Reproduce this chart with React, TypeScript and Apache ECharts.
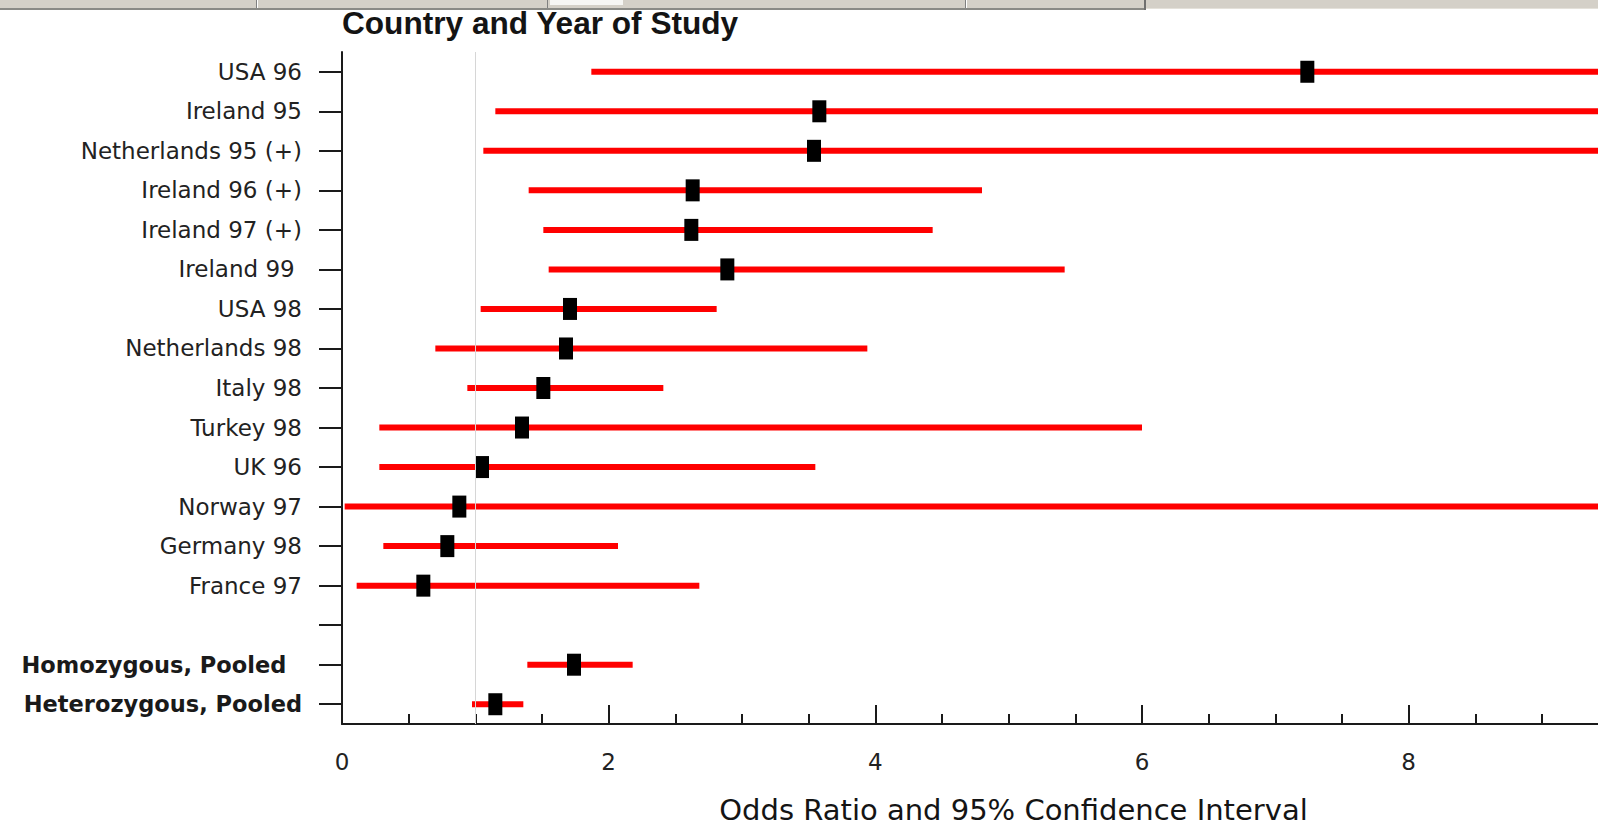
import React, { useEffect, useRef } from "react";
import * as echarts from "echarts";

// ---- data ----
const studies = [
  "USA 96",
  "Ireland 95",
  "Netherlands 95 (+)",
  "Ireland 96 (+)",
  "Ireland 97 (+)",
  "Ireland 99 ",
  "USA 98",
  "Netherlands 98",
  "Italy 98",
  "Turkey 98",
  "UK 96",
  "Norway 97",
  "Germany 98",
  "France 97",
  "",
  "Homozygous, Pooled  ",
  "Heterozygous, Pooled",
];
const oddsRatio = [7.24, 3.58, 3.54, 2.63, 2.62, 2.89, 1.71, 1.68, 1.51, 1.35, 1.05, 0.88, 0.79, 0.61, null, 1.74, 1.15];
const ciLower = [1.87, 1.15, 1.06, 1.40, 1.51, 1.55, 1.04, 0.70, 0.94, 0.28, 0.28, 0.02, 0.31, 0.11, null, 1.39, 0.975];
// upper limits beyond the visible axis (cut at the right edge) are estimates
const ciUpper = [11, 11, 11, 4.80, 4.43, 5.42, 2.81, 3.94, 2.41, 6.00, 3.55, 11, 2.07, 2.68, null, 2.18, 1.36];
const pooledRows = ["Homozygous, Pooled  ", "Heterozygous, Pooled"];
const xTickLabels = [0, 2, 4, 6, 8];
const majorStep = 2;
const minorStep = 0.5;
const referenceValue = 1;
const xMax = 9.435;

const titleText = "Country and Year of Study";
const xAxisTitle = "Odds Ratio and 95% Confidence Interval";

const LABEL_FONT = "DejaVu Sans";

export default function App() {
  const ref = useRef<HTMLDivElement>(null);

  useEffect(() => {
    if (!ref.current) return;
    const chart = echarts.init(ref.current, undefined, { renderer: "svg" });

    const ciData: any[] = [];
    const orData: any[] = [];
    studies.forEach((s, i) => {
      if (oddsRatio[i] == null) return;
      ciData.push([ciLower[i], ciUpper[i], i]);
      orData.push([oddsRatio[i], i]);
    });

    const axisColor = "#1a1a1a";

    const option: any = {
      animation: false,
      backgroundColor: "#ffffff",
      title: {
        text: titleText,
        left: 342,
        top: 7,
        padding: 0,
        textStyle: {
          fontFamily: "Liberation Sans",
          fontWeight: "bold",
          fontSize: 31.6,
          color: "#141414",
        },
      },
      graphic: [
        { type: "rect", shape: { x: 0, y: 0, width: 1598, height: 8 }, style: { fill: "#d4d0c8" }, z: 10 },
        { type: "rect", shape: { x: 0, y: 8, width: 1146, height: 2 }, style: { fill: "#8a8a86" }, z: 10 },
        { type: "rect", shape: { x: 1146, y: 8, width: 452, height: 1 }, style: { fill: "#e4e1da" }, z: 10 },
        { type: "rect", shape: { x: 256, y: 0, width: 1, height: 8 }, style: { fill: "#808080" }, z: 11 },
        { type: "rect", shape: { x: 257, y: 0, width: 1, height: 8 }, style: { fill: "#ffffff" }, z: 11 },
        { type: "rect", shape: { x: 547, y: 0, width: 1, height: 8 }, style: { fill: "#808080" }, z: 11 },
        { type: "rect", shape: { x: 550, y: 0, width: 73, height: 5 }, style: { fill: "#f6f6f4" }, z: 11 },
        { type: "rect", shape: { x: 965, y: 0, width: 1, height: 8 }, style: { fill: "#808080" }, z: 11 },
        { type: "rect", shape: { x: 966, y: 0, width: 1, height: 8 }, style: { fill: "#ffffff" }, z: 11 },
        { type: "rect", shape: { x: 1144, y: 0, width: 2, height: 10 }, style: { fill: "#6f6f6f" }, z: 11 },
      ],
      grid: {
        left: 342,
        right: -2,
        top: 52,
        bottom: 103,
        containLabel: false,
        outerBoundsMode: "none",
      },
      xAxis: [
        {
          type: "value",
          min: 0,
          max: xMax,
          interval: majorStep,
          position: "bottom",
          axisLine: { show: true, lineStyle: { color: axisColor, width: 2 } },
          axisTick: {
            show: true,
            inside: true,
            length: 19,
            lineStyle: { color: axisColor, width: 2 },
          },
          axisLabel: {
            margin: 26,
            fontFamily: LABEL_FONT,
            fontSize: 23,
            color: "#222222",
            formatter: (v: number) => (xTickLabels.includes(v) ? String(v) : ""),
          },
          splitLine: { show: false },
          name: xAxisTitle,
          nameLocation: "middle",
          nameGap: 75,
          nameTextStyle: {
            fontFamily: LABEL_FONT,
            fontSize: 29,
            lineHeight: 22,
            color: "#141414",
            padding: [0, 0, 0, 85],
          },
        },
        {
          type: "value",
          min: 0,
          max: xMax,
          interval: minorStep,
          position: "bottom",
          axisLine: { show: false },
          axisTick: {
            show: true,
            inside: true,
            length: 10,
            lineStyle: { color: axisColor, width: 2 },
          },
          axisLabel: { show: false },
          splitLine: { show: false },
        },
      ],
      yAxis: {
        type: "category",
        inverse: true,
        data: studies,
        axisLine: { show: true, lineStyle: { color: axisColor, width: 2 } },
        axisTick: {
          show: true,
          alignWithLabel: true,
          length: 23,
          lineStyle: { color: axisColor, width: 2 },
        },
        axisLabel: {
          margin: 40,
          fontFamily: LABEL_FONT,
          fontSize: 23,
          color: "#222222",
          interval: 0,
          formatter: (v: string) => {
            const t = v.replace(/ +$/, (m) => "\u00a0".repeat(m.length));
            return pooledRows.includes(v) ? `{b|${t}}` : t;
          },
          rich: {
            b: {
              fontFamily: LABEL_FONT,
              fontWeight: "bold",
              fontSize: 22.5,
              color: "#1a1a1a",
            },
          },
        },
        splitLine: { show: false },
      },
      series: [
        {
          type: "line",
          data: [],
          z: 1,
          silent: true,
          markLine: {
            silent: true,
            symbol: ["none", "none"],
            label: { show: false },
            lineStyle: { color: "#d6d6d6", width: 1, type: "solid" },
            data: [{ xAxis: referenceValue }],
          },
        },
        {
          type: "custom",
          z: 2,
          clip: true,
          encode: { x: [0, 1], y: 2 },
          data: ciData,
          renderItem: (params: any, api: any) => {
            const p1 = api.coord([api.value(0), api.value(2)]);
            const p2 = api.coord([api.value(1), api.value(2)]);
            return {
              type: "line",
              shape: { x1: p1[0], y1: p1[1], x2: p2[0], y2: p2[1] },
              style: { stroke: "#ff0000", lineWidth: 6 },
            };
          },
        },
        {
          type: "scatter",
          z: 3,
          symbol: "rect",
          symbolSize: [14, 22],
          itemStyle: { color: "#000000", opacity: 1 },
          data: orData,
        },
      ],
    };

    chart.setOption(option);
    return () => chart.dispose();
  }, []);

  return (
    <div
      ref={ref}
      style={{ position: "fixed", left: 0, top: 0, width: 1598, height: 827 }}
    />
  );
}
